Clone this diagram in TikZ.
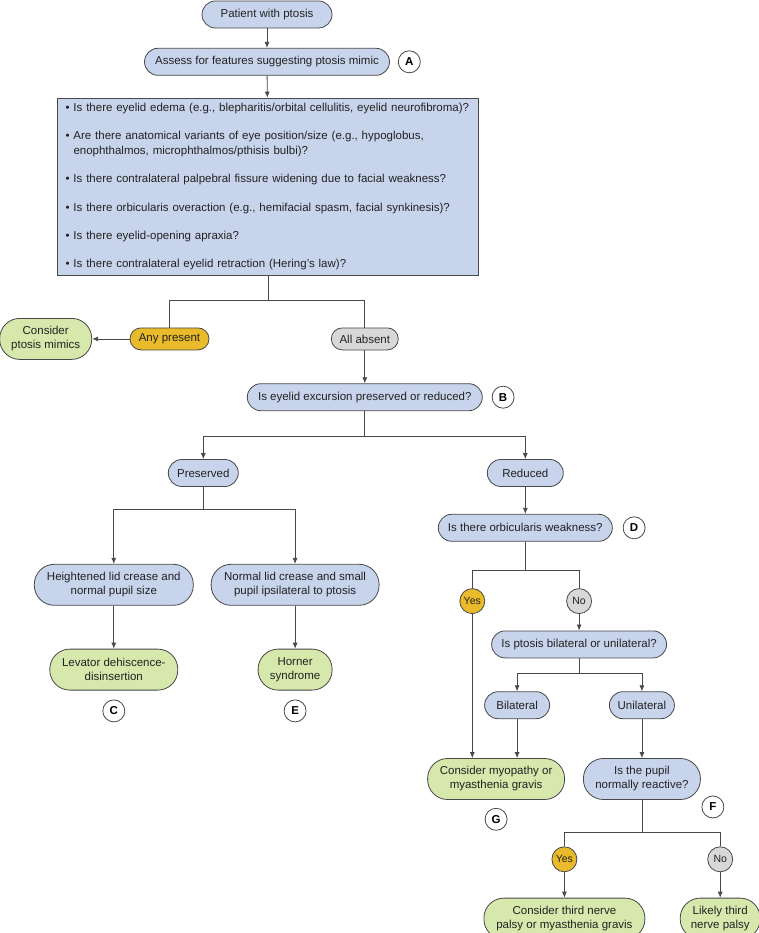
\documentclass[tikz,border=0pt]{standalone}
\usepackage{fontspec}
\setmainfont{Liberation Sans}
\usetikzlibrary{positioning,arrows.meta}

\definecolor{askblue}{RGB}{200,212,235}
\definecolor{endgreen}{RGB}{214,232,172}
\definecolor{yesyellow}{RGB}{233,186,42}
\definecolor{nogray}{RGB}{216,216,216}
\definecolor{linegray}{RGB}{72,72,72}
\definecolor{textgray}{RGB}{34,34,34}

\tikzset{
  box/.style={draw=linegray, line width=0.8pt, fill=askblue, text=textgray,
    rounded corners=13.5pt, minimum height=27pt, inner sep=2pt, align=center,
    font=\fontsize{11.5}{14}\selectfont},
  tall/.style={rounded corners=20pt, minimum height=41pt},
  ending/.style={box, fill=endgreen},
  answer/.style={box, rounded corners=11pt, minimum height=22pt},
  choice/.style={circle, draw=linegray, line width=0.8pt, text=textgray,
    minimum size=25pt, inner sep=0pt, font=\fontsize{10.5}{12}\selectfont},
  letter/.style={circle, draw=linegray, line width=0.8pt, fill=white, text=black,
    minimum size=22pt, inner sep=0pt, font=\bfseries\fontsize{11.5}{12}\selectfont},
  listbox/.style={draw=linegray, line width=0.8pt, fill=askblue, text=textgray,
    text width=405pt, inner xsep=8pt, minimum height=177pt, align=left,
    font=\fontsize{11.5}{15}\selectfont},
  link/.style={draw=linegray, line width=0.8pt},
  arr/.style={link, -{Latex[length=6pt,width=5pt]}},
}

\newcommand{\bul}{\makebox[8pt][l]{\textbullet}}

\begin{document}
\begin{tikzpicture}[x=1pt, y=1pt]
  \useasboundingbox (0,0) rectangle (759,-933);

  \node (patient) [box, minimum width=130pt] at (267,-14.5) {Patient with ptosis};
  \node (assess) [box, minimum width=245pt, below=19.5pt of patient] {Assess for features suggesting ptosis mimic};
  \node (A) [letter, right=8pt of assess] {A};
  \node (qs) [listbox, below=22pt of assess, xshift=1pt] {%
    \bul Is there eyelid edema (e.g., blepharitis/orbital cellulitis, eyelid neurofibroma)?\\[13.3pt]
    \bul Are there anatomical variants of eye position/size (e.g., hypoglobus,\\
    \hspace*{8pt}enophthalmos, microphthalmos/pthisis bulbi)?\\[13.3pt]
    \bul Is there contralateral palpebral fissure widening due to facial weakness?\\[13.3pt]
    \bul Is there orbicularis overaction (e.g., hemifacial spasm, facial synkinesis)?\\[13.3pt]
    \bul Is there eyelid-opening apraxia?\\[13.3pt]
    \bul Is there contralateral eyelid retraction (Hering's law)?};

  \node (any) [answer, fill=yesyellow, minimum width=79pt, below=52pt of qs, xshift=-98.5pt] {Any present};
  \node (absent) [answer, fill=nogray, minimum width=67pt, right=121.5pt of any] {All absent};
  \node (mimic) [ending, tall, minimum width=92pt, left=37.5pt of any] {Consider\\ptosis mimics};

  \node (excursion) [box, minimum width=235pt, below=33pt of absent] {Is eyelid excursion preserved or reduced?};
  \node (B) [letter, right=9pt of excursion] {B};
  \node (preserved) [box, minimum width=70pt, below=48pt of excursion, xshift=-161.5pt] {Preserved};
  \node (reduced) [box, minimum width=76pt, below=48pt of excursion, xshift=160.5pt] {Reduced};

  \node (heightened) [box, tall, minimum width=159pt, below=77pt of preserved, xshift=-89.5pt] {Heightened lid crease and\\normal pupil size};
  \node (normal) [box, tall, minimum width=168pt, right=17pt of heightened] {Normal lid crease and small\\pupil ipsilateral to ptosis};
  \node (levator) [ending, tall, minimum width=128pt, below=43pt of heightened] {Levator dehiscence-\\disinsertion};
  \node (horner) [ending, tall, minimum width=74pt, below=43pt of normal] {Horner\\syndrome};
  \node (C) [letter, below=9pt of levator] {C};
  \node (E) [letter, below=9pt of horner] {E};

  \node (weak) [box, minimum width=174pt, below=27pt of reduced] {Is there orbicularis weakness?};
  \node (D) [letter, right=10pt of weak] {D};
  \node (yes1) [choice, fill=yesyellow, below=46.5pt of weak, xshift=-53pt] {Yes};
  \node (no1) [choice, fill=nogray, right=81pt of yes1] {No};
  \node (lat) [box, minimum width=175pt, below=16.5pt of no1] {Is ptosis bilateral or unilateral?};
  \node (bi) [box, minimum width=65pt, below=33pt of lat, xshift=-62pt] {Bilateral};
  \node (uni) [box, minimum width=65pt, right=59pt of bi] {Unilateral};
  \node (myo) [ending, tall, minimum width=137pt, below=39pt of bi, xshift=-21pt] {Consider myopathy or\\myasthenia gravis};
  \node (pupil) [box, tall, minimum width=117pt, below=39pt of uni] {Is the pupil\\normally reactive?};
  \node (G) [letter, below=8pt of myo] {G};
  \node (F) [letter, below right=-1pt and 4pt of pupil] {F};

  \node (yes2) [choice, fill=yesyellow, below=46.5pt of pupil, xshift=-77.5pt] {Yes};
  \node (no2) [choice, fill=nogray, right=130pt of yes2] {No};
  \node (third) [ending, tall, minimum width=161pt, below=25.5pt of yes2] {Consider third nerve\\palsy or myasthenia gravis};
  \node (likely) [ending, tall, minimum width=80pt, below=25.5pt of no2] {Likely third\\nerve palsy};

  \draw [arr] (patient) -- (assess);
  \draw [arr] (assess) -- (qs);
  \draw [link] (qs.south) -- ++(0,-25) coordinate (fork1);
  \draw [link] (any) |- (fork1) -| (absent);
  \draw [arr] (any) -- (mimic);
  \draw [arr] (absent) -- (excursion);

  \draw [link] (excursion.south) -- ++(0,-25) coordinate (fork2);
  \draw [arr] (fork2) -| (preserved);
  \draw [arr] (fork2) -| (reduced);

  \draw [link] (preserved.south) -- ++(0,-22) coordinate (fork3);
  \draw [arr] (fork3) -| (heightened);
  \draw [arr] (fork3) -| (normal);
  \draw [arr] (heightened) -- (levator);
  \draw [arr] (normal) -- (horner);

  \draw [arr] (reduced) -- (weak);
  \draw [link] (weak.south) -- ++(0,-29) coordinate (fork4);
  \draw [link] (fork4) -| (yes1);
  \draw [link] (fork4) -| (no1);
  \draw [arr] (no1) -- (lat);
  \draw [link] (lat.south) -- ++(0,-15) coordinate (fork5);
  \draw [arr] (fork5) -| (bi);
  \draw [arr] (fork5) -| (uni);
  \draw [arr] (yes1) -- (yes1 |- myo.north);
  \draw [arr] (bi) -- (bi |- myo.north);
  \draw [arr] (uni) -- (pupil);

  \draw [link] (pupil.south) -- ++(0,-32) coordinate (fork6);
  \draw [link] (fork6) -| (yes2);
  \draw [link] (fork6) -| (no2);
  \draw [arr] (yes2) -- (third);
  \draw [arr] (no2) -- (likely);
\end{tikzpicture}
\end{document}
